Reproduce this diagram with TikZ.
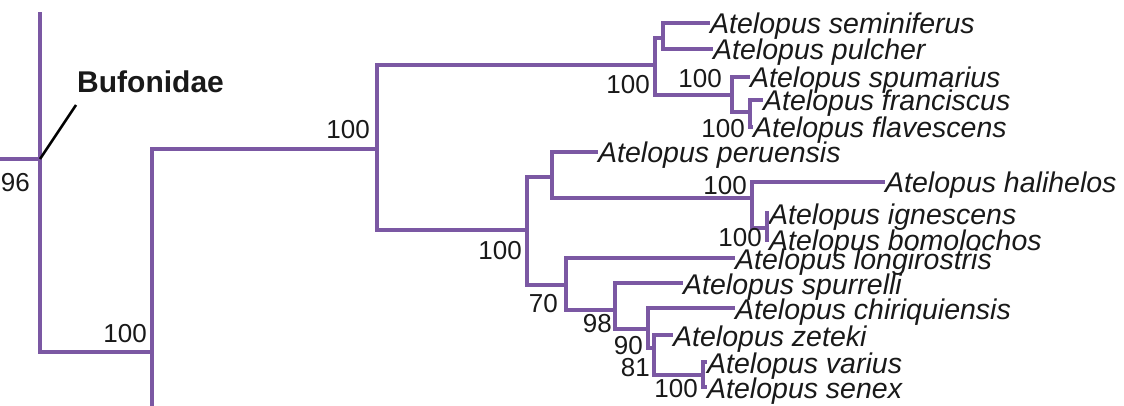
\documentclass[tikz,border=0pt]{standalone}
\usepackage{fontspec}
\setmainfont{Liberation Sans}
\definecolor{brcol}{RGB}{123,88,163}
\definecolor{txt}{RGB}{25,25,25}
\begin{document}
\begin{tikzpicture}[x=1pt,y=-1pt,
  branch/.style={draw=brcol,line width=4pt,line join=miter,line cap=butt},
  leaf/.style={anchor=base west,inner sep=0pt,yshift=-11pt,text=txt,font=\fontsize{28.5}{30}\selectfont\itshape},
  supp/.style={anchor=east,inner sep=0pt,text=txt,font=\fontsize{26}{28}\selectfont},
  clade/.style={anchor=west,inner sep=0pt,text=txt,font=\fontsize{30}{32}\selectfont\bfseries},
  pointer/.style={draw=black,line width=2.5pt}]
\useasboundingbox (0,0) rectangle (1124,406);
\clip (0,0) rectangle (1124,406);
% internal nodes
\coordinate (in0) at (-10,159);
\coordinate (top0) at (40,12);
\coordinate (n0) at (40,159);
\coordinate (n1) at (152,352);
\coordinate (bot1) at (152,420);
\coordinate (n2) at (377,149);
\coordinate (n3) at (655,65);
\coordinate (n4) at (663,38);
\coordinate (n5) at (732,95);
\coordinate (n6) at (750,112);
\coordinate (n7) at (527,230);
\coordinate (n8) at (552,177);
\coordinate (n9) at (752,198);
\coordinate (n10) at (767,228);
\coordinate (n11) at (566,285);
\coordinate (n12) at (615,310);
\coordinate (n13) at (648,329);
\coordinate (n14) at (654,348);
\coordinate (n15) at (703,375);
% leaf tips
\coordinate (t1) at (710,23);
\coordinate (t2) at (713,49);
\coordinate (t3) at (750,77);
\coordinate (t4) at (763,100);
\coordinate (t5) at (753,127);
\coordinate (t6) at (598,152);
\coordinate (t7) at (885,182);
\coordinate (t8) at (769,213);
\coordinate (t9) at (769,240);
\coordinate (t10) at (735,258);
\coordinate (t11) at (683,283);
\coordinate (t12) at (735,308);
\coordinate (t13) at (673,335);
\coordinate (t14) at (707,362);
\coordinate (t15) at (707,387);
% leaf labels
\node[leaf] (l1) at (t1) {Atelopus seminiferus};
\node[leaf] (l2) at (t2) {Atelopus pulcher};
\node[leaf] (l3) at (t3) {Atelopus spumarius};
\node[leaf] (l4) at (t4) {Atelopus franciscus};
\node[leaf] (l5) at (t5) {Atelopus flavescens};
\node[leaf] (l6) at (t6) {Atelopus peruensis};
\node[leaf] (l7) at (t7) {Atelopus halihelos};
\node[leaf] (l8) at (t8) {Atelopus ignescens};
\node[leaf] (l9) at (t9) {Atelopus bomolochos};
\node[leaf] (l10) at (t10) {Atelopus longirostris};
\node[leaf] (l11) at (t11) {Atelopus spurrelli};
\node[leaf] (l12) at (t12) {Atelopus chiriquiensis};
\node[leaf] (l13) at (t13) {Atelopus zeteki};
\node[leaf] (l14) at (t14) {Atelopus varius};
\node[leaf] (l15) at (t15) {Atelopus senex};
% branches
\draw[branch] (in0) -- (n0);
\draw[branch] (n0) -- (top0);
\draw[branch] (n0) |- (n1);
\draw[branch] (n1) -- (bot1);
\draw[branch] (n1) |- (n2);
\draw[branch] (n2) |- (n3);
\draw[branch] (n2) |- (n7);
\draw[branch] (n3) |- (n4);
\draw[branch] (n3) |- (n5);
\draw[branch] (n4) |- (t1);
\draw[branch] (n4) |- (t2);
\draw[branch] (n5) |- (t3);
\draw[branch] (n5) |- (n6);
\draw[branch] (n6) |- (t4);
\draw[branch] (n6) |- (t5);
\draw[branch] (n7) |- (n8);
\draw[branch] (n7) |- (n11);
\draw[branch] (n8) |- (t6);
\draw[branch] (n8) |- (n9);
\draw[branch] (n9) |- (t7);
\draw[branch] (n9) |- (n10);
\draw[branch] (n10) |- (t8);
\draw[branch] (n10) |- (t9);
\draw[branch] (n11) |- (t10);
\draw[branch] (n11) |- (n12);
\draw[branch] (n12) |- (t11);
\draw[branch] (n12) |- (n13);
\draw[branch] (n13) |- (t12);
\draw[branch] (n13) |- (n14);
\draw[branch] (n14) |- (t13);
\draw[branch] (n14) |- (n15);
\draw[branch] (n15) |- (t14);
\draw[branch] (n15) |- (t15);
% support values
\node[supp] (s0) at (30,183) {96};
\node[supp] (s1) at (147,334) {100};
\node[supp] (s2) at (370,130) {100};
\node[supp] (s3) at (650,85) {100};
\node[supp] (s5) at (722,79) {100};
\node[supp] (s6) at (745,129) {100};
\node[supp] (s7) at (522,251) {100};
\node[supp] (s9) at (747,186) {100};
\node[supp] (s10) at (762,238) {100};
\node[supp] (s11) at (558,304) {70};
\node[supp] (s12) at (612,324) {98};
\node[supp] (s13) at (643,346) {90};
\node[supp] (s14) at (650,368) {81};
\node[supp] (s15) at (698,389) {100};
% clade label
\node[clade] (buf) at (77,82) {Bufonidae};
\coordinate (bufend) at (76,105);
\draw[pointer] (n0) -- (bufend);
\end{tikzpicture}
\end{document}
